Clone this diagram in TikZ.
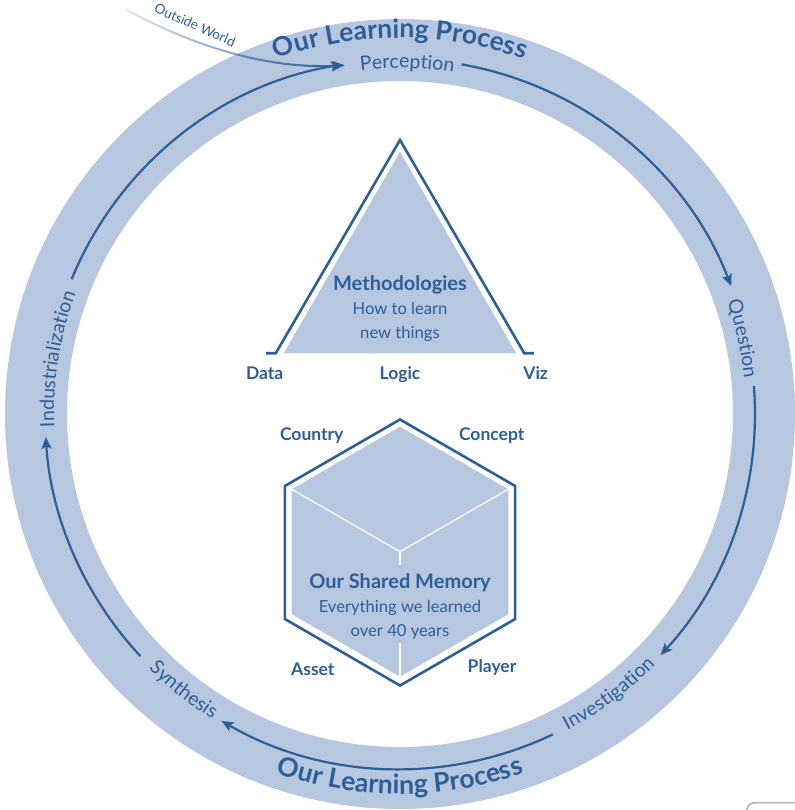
\documentclass[tikz,border=0pt]{standalone}
\usepackage{fontspec}
\setmainfont{Lato}
\usetikzlibrary{arrows.meta,decorations.text,fadings}
\definecolor{ringc}{RGB}{183,199,224}
\definecolor{dark}{RGB}{44,94,152}
\newcommand\ringlblfont{\fontsize{19.5bp}{21bp}\selectfont}
\newcommand\ringtitlefont{\fontsize{26.5bp}{30bp}\selectfont\bfseries}
\tikzfading[name=fadein, left color=transparent!85, middle color=transparent!0, right color=transparent!0]
\tikzset{
  flow/.style={draw=dark, line width=2.2bp, -{Stealth[length=12bp,width=10bp,inset=2.5bp]}},
  edgeline/.style={draw=dark, line width=2.6bp, line join=miter},
  whiteline/.style={draw=white, line width=1.2bp},
  cornerlbl/.style={text=dark, font=\fontsize{17.5bp}{19bp}\selectfont\bfseries, anchor=base, inner sep=0pt},
  headtxt/.style={text=dark, font=\fontsize{20bp}{22bp}\selectfont\bfseries, anchor=base, inner sep=0pt},
  subtxt/.style={text=dark, font=\fontsize{16.6bp}{18bp}\selectfont, anchor=base, inner sep=0pt},
  ringtext/.style={decorate, decoration={text along path, text align=center, text color=dark, text={#1}}},
}
\begin{document}
\begin{tikzpicture}[x=1bp,y=1bp]
\useasboundingbox (-400,-396) rectangle (395,414);
% ring
\fill[ringc, even odd rule] (0,0) circle[radius=395] (0,0) circle[radius=333];
% ring titles
\path[ringtext={|\ringtitlefont|Our Learning Process}] (130:376) arc[start angle=130, end angle=50, radius=376];
\path[ringtext={|\ringtitlefont|Our Learning Process}] (-130:380) arc[start angle=-130, end angle=-50, radius=380];
% ring step labels
\path[ringtext={|\ringlblfont|Perception}] (103.8:346) arc[start angle=103.8, end angle=73.8, radius=346];
\path[ringtext={|\ringlblfont|Question}] (30:346) arc[start angle=30, end angle=-5.2, radius=346];
\path[ringtext={|\ringlblfont|Investigation}] (-75.3:358) arc[start angle=-75.3, end angle=-31.3, radius=358];
\path[ringtext={|\ringlblfont|Synthesis}] (-148.1:358) arc[start angle=-148.1, end angle=-108.1, radius=358];
\path[ringtext={|\ringlblfont|Industrialization}] (192.9:346) arc[start angle=192.9, end angle=148.9, radius=346];
% flow coordinates
\coordinate (percE) at (80:355);
\coordinate (quesE) at (4.5:355);
\coordinate (invE) at (-64.5:355);
\coordinate (synE) at (-137:355);
\coordinate (indE) at (157.7:355);
\coordinate (owstart) at (-273.3,404);
\coordinate (perctip) at (99:353);
% flow arcs
\draw[flow] (percE) arc[start angle=80, end angle=21.1, radius=355];
\draw[flow] (quesE) arc[start angle=4.5, end angle=-42.8, radius=355];
\draw[flow] (invE) arc[start angle=-64.5, end angle=-120.2, radius=355];
\draw[flow] (synE) arc[start angle=-137, end angle=-176.3, radius=355];
\draw[flow] (indE) arc[start angle=157.7, end angle=99, radius=353];
% outside world
\draw[dark, line width=2bp, path fading=fadein, -{Stealth[length=12bp,width=10bp,inset=2.5bp]}] (owstart) .. controls (-180,354) and (-110,346) .. (perctip);
\node[text=dark, font=\fontsize{13.5bp}{15bp}\selectfont, rotate=-24, inner sep=0pt] (owlbl) at (-205,389) {Outside World};
% triangle
\fill[ringc] (-116.2,60.7) -- (0,262.3) -- (116.2,60.7) -- cycle;
\draw[edgeline] (-134,60.7) -- (-124.3,60.7) -- (0,274) -- (124.3,60.7) -- (134,60.7);
\node[headtxt] (meth) at (0,123.3) {Methodologies};
\node[subtxt] (meth1) at (0,99) {How to learn};
\node[subtxt] (meth2) at (0,75.7) {new things};
\node[cornerlbl] (data) at (-135.3,34.7) {Data};
\node[cornerlbl] (logic) at (0,34.7) {Logic};
\node[cornerlbl] (viz) at (135.7,34.7) {Viz};
% hexagon / cube
\begin{scope}[shift={(0,-138.5)}]
\draw[edgeline] (90:133) -- (30:133) -- (-30:133) -- (-90:133) -- (-150:133) -- (150:133) -- cycle;
\end{scope}
\begin{scope}[shift={(0,-137.7)}]
\fill[ringc] (90:125) -- (30:125) -- (-30:125) -- (-90:125) -- (-150:125) -- (150:125) -- cycle;
\draw[whiteline] (150:125) -- (0,0) -- (30:125);
\draw[whiteline] (0,0) -- (0,-13.5);
\draw[whiteline] (0,-91.3) -- (-90:125);
\end{scope}
\node[headtxt] (mem) at (0,-174) {Our Shared Memory};
\node[subtxt] (mem1) at (0,-198.3) {Everything we learned};
\node[subtxt] (mem2) at (0,-222.7) {over 40 years};
\node[cornerlbl] (country) at (-88.3,-27) {Country};
\node[cornerlbl] (concept) at (91.7,-27) {Concept};
\node[cornerlbl] (asset) at (-87.2,-261.7) {Asset};
\node[cornerlbl] (player) at (92,-258.7) {Player};
% corner artifact
\draw[black!27, line width=1.8bp] (346.7,-396) .. controls (348.5,-390) and (351,-388.7) .. (356,-388.7) -- (395,-388.7);
\end{tikzpicture}
\end{document}
